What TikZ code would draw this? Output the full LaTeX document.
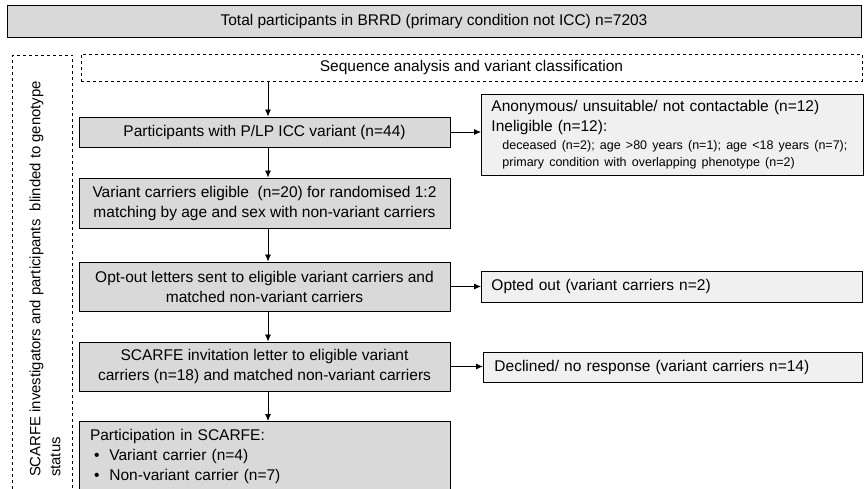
\documentclass[tikz,border=0pt]{standalone}
\usepackage{fontspec}
\setmainfont{Liberation Sans}
\usetikzlibrary{arrows.meta}

\definecolor{boxgray}{gray}{0.85}
\definecolor{sidegray}{gray}{0.94}

\tikzset{
	mainbox/.style={draw, line width=0.9pt, fill=boxgray, minimum width=371pt, inner sep=0pt, align=center,
		font=\fontsize{15.5}{20}\selectfont},
	sidebox/.style={draw, line width=0.9pt, fill=sidegray, inner ysep=0pt, anchor=west, align=left,
		font=\fontsize{15.5}{20}\selectfont},
	dashbox/.style={draw, dashed, line width=0.7pt, inner sep=0pt},
	flow/.style={-{Latex[length=7pt,width=6pt]}, line width=0.8pt}
}
\newcommand{\smalltxt}{\fontsize{12.5}{15}\selectfont}

\begin{document}
\begin{tikzpicture}[x=1pt,y=-1pt]
	\useasboundingbox (0,0) rectangle (864,488);

	\node[mainbox, minimum width=854pt, minimum height=32pt] (total) at (434,21)
		{Total participants in BRRD (primary condition not ICC) n=7203};

	\node[dashbox, minimum width=60pt, minimum height=445pt] (blind) at (42.5,277.5) {};
	\node[rotate=90, align=left, font=\fontsize{14.9}{20}\selectfont] (blindtxt) at (45,279)
		{SCARFE investigators and participants\ \ blinded to genotype\\status};

	\node[dashbox, minimum width=781pt, minimum height=27pt,
		font=\fontsize{15.5}{20}\selectfont] (seq) at (471.5,67.5)
		{Sequence analysis and variant classification};

	\node[mainbox, minimum height=30pt] (n1) at (264.5,132)
		{Participants with P/LP ICC variant (n=44)};
	\node[mainbox, minimum height=50pt] (n2) at (264.5,203)
		{Variant carriers eligible\ \ (n=20) for randomised 1:2\\matching by age and sex with non-variant carriers};
	\node[mainbox, minimum height=49pt] (n3) at (264.5,286.5)
		{Opt-out letters sent to eligible variant carriers and\\matched non-variant carriers};
	\node[mainbox, minimum height=49pt] (n4) at (264.5,366.5)
		{SCARFE invitation letter to eligible variant\\carriers (n=18) and matched non-variant carriers};
	\node[mainbox, anchor=north, align=left, text width=349pt, inner xsep=11pt, inner ysep=8pt] (n5) at (264.5,421)
		{Participation in SCARFE:\\
		\hspace*{4pt}\textbullet\hspace{10pt}Variant carrier (n=4)\\
		\hspace*{4pt}\textbullet\hspace{10pt}Non-variant carrier (n=7)};

	\node[sidebox, minimum width=382pt, minimum height=81pt, inner xsep=10pt, text width=362pt] (r1) at (481,134.5)
		{Anonymous/ unsuitable/ not contactable (n=12)\\
		Ineligible (n=12):\\[-2pt]
		\hspace*{11pt}{\smalltxt deceased (n=2); age >80 years (n=1); age <18 years (n=7);}\\[-3pt]
		\hspace*{11pt}{\smalltxt primary condition with overlapping phenotype (n=2)}};
	\node[sidebox, minimum width=381pt, minimum height=31pt, inner xsep=10pt, text width=361pt] (r2) at (481,286.5)
		{Opted out (variant carriers n=2)};
	\node[sidebox, minimum width=379pt, minimum height=30pt, inner xsep=11pt, text width=357pt] (r3) at (483,367)
		{Declined/ no response (variant carriers n=14)};

	% downward flow
	\draw[flow] ([xshift=3.5pt]n1.north |- seq.south) -- ([xshift=3.5pt]n1.north);
	\foreach \i / \j in {1/2, 2/3, 3/4, 4/5}
	{
		\draw[flow] ([xshift=3.5pt]n\i.south) -- ([xshift=3.5pt]n\j.north);
	};

	% exclusions
	\foreach \i / \j in {1/1, 3/2, 4/3}
	{
		\draw[flow] (n\i.east) -- (n\i.east -| r\j.west);
	};
\end{tikzpicture}
\end{document}
